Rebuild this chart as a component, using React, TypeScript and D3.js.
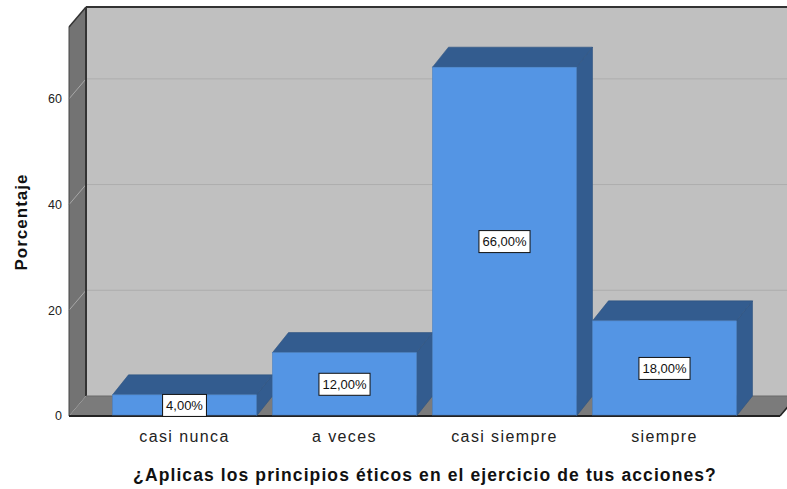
import React from 'react';
import * as d3 from 'd3';

const categories = ['casi nunca', 'a veces', 'casi siempre', 'siempre'];
const percentages = [4, 12, 66, 18];
const yTicks = [0, 20, 40, 60];

const W = 787;
const H = 489;
const left = 69;
const right = 780;
const floorY = 416;
const topY = 27;
const wallDx = 17;
const wallDy = -20;
const barDx = 16;
const barDy = -20;

const font = "'Liberation Sans', Arial, sans-serif";

function textWidth(txt: string, f: string) {
  const ctx = document.createElement('canvas').getContext('2d');
  if (!ctx) return txt.length * 7;
  ctx.font = f;
  return ctx.measureText(txt).width;
}

function pts(p: number[][]) {
  return p.map(d => d.join(',')).join(' ');
}

export default function App() {
  const x = d3.scaleBand<string>()
    .domain(categories)
    .range([left, right])
    .paddingInner(0.1)
    .paddingOuter(0.272);
  const y = d3.scaleLinear().domain([0, 73.6]).range([floorY, topY]);
  const fmt = (v: number) => d3.format('.2f')(v).replace('.', ',') + '%';

  const backLeft = left + wallDx;
  const backFloor = floorY + wallDy;

  return (
    <div style={{ position: 'fixed', left: 0, top: 0 }}>
      <svg width={W} height={H} style={{ display: 'block', fontFamily: font }}>
        <rect width={W} height={H} fill="white" />
        {/* back wall */}
        <rect x={backLeft} y={topY + wallDy} width={W - backLeft + 20} height={backFloor - topY - wallDy} fill="#c0c0c0" />
        {/* left wall */}
        <polygon points={pts([[left, topY], [backLeft, topY + wallDy], [backLeft, backFloor], [left, floorY]])} fill="#737373" />
        {/* floor */}
        <polygon points={pts([[left, floorY], [right, floorY], [right + wallDx, backFloor], [backLeft, backFloor]])} fill="#7b7b7b" />
        {/* grid lines */}
        {yTicks.filter(t => t > 0).map(t => (
          <g key={'grid' + t}>
            <line x1={left} y1={y(t)} x2={backLeft} y2={y(t) + wallDy} stroke="#a8a8a8" strokeWidth={1} />
            <line x1={backLeft} y1={y(t) + wallDy} x2={W} y2={y(t) + wallDy} stroke="#adadad" strokeWidth={1} />
          </g>
        ))}
        {/* wall edges */}
        <line x1={backLeft} y1={topY + wallDy} x2={W} y2={topY + wallDy} stroke="#333" strokeWidth={2} />
        <line x1={backLeft} y1={topY + wallDy} x2={backLeft} y2={backFloor} stroke="#333" strokeWidth={2} />
        <line x1={left} y1={topY} x2={backLeft} y2={topY + wallDy} stroke="#333" strokeWidth={1.5} />
        <line x1={left} y1={topY} x2={left} y2={floorY} stroke="#444" strokeWidth={1} />
        <line x1={backLeft} y1={backFloor} x2={right + wallDx} y2={backFloor} stroke="#6a6a6a" strokeWidth={1} />
        <line x1={right} y1={floorY} x2={right + wallDx} y2={backFloor} stroke="#222" strokeWidth={1.5} />
        <line x1={left} y1={floorY} x2={right} y2={floorY} stroke="#222" strokeWidth={2} />

        {/* bars */}
        {percentages.map((v, i) => {
          const x0 = x(categories[i]) as number;
          const x1 = x0 + x.bandwidth();
          const yt = y(v);
          return (
            <g key={'bar' + i}>
              <polygon points={pts([[x1, yt], [x1 + barDx, yt + barDy], [x1 + barDx, floorY + barDy], [x1, floorY]])}
                fill="#335c8f" stroke="#2d5280" strokeWidth={0.6} />
              <polygon points={pts([[x0, yt], [x0 + barDx, yt + barDy], [x1 + barDx, yt + barDy], [x1, yt]])}
                fill="#335c8f" stroke="#2d5280" strokeWidth={0.6} />
              <rect x={x0} y={yt} width={x.bandwidth()} height={floorY - yt - 1}
                fill="#5495e4" stroke="#4a80c2" strokeWidth={0.6} />
            </g>
          );
        })}

        {/* value labels */}
        {percentages.map((v, i) => {
          const cx = (x(categories[i]) as number) + x.bandwidth() / 2;
          const cy = (y(v) + floorY) / 2;
          const label = fmt(v);
          const tw = textWidth(label, '13px ' + font);
          return (
            <g key={'lab' + i}>
              <rect x={cx - tw / 2 - 3.5} y={cy - 11} width={tw + 7} height={22} fill="white" stroke="#111" strokeWidth={1} />
              <text x={cx} y={cy} dy="0.35em" textAnchor="middle" fontSize={13} fill="#111">{label}</text>
            </g>
          );
        })}

        {/* y ticks */}
        {yTicks.map(t => (
          <text key={'t' + t} x={62} y={y(t)} dy="0.35em" textAnchor="end" fontSize={12.5} fill="#222">{t}</text>
        ))}

        {/* category labels */}
        {categories.map(c => (
          <text key={c} x={(x(c) as number) + x.bandwidth() / 2} y={442} textAnchor="middle" fontSize={16}
            letterSpacing={1.4} fill="#222">{c}</text>
        ))}

        <text x={425} y={481} textAnchor="middle" fontSize={17.5} fontWeight="bold" letterSpacing={1.1} fill="#111">
          ¿Aplicas los principios éticos en el ejercicio de tus acciones?
        </text>
        <text transform="translate(27,222) rotate(-90)" textAnchor="middle" fontSize={17} fontWeight="bold"
          letterSpacing={1} fill="#111">Porcentaje</text>
      </svg>
    </div>
  );
}
